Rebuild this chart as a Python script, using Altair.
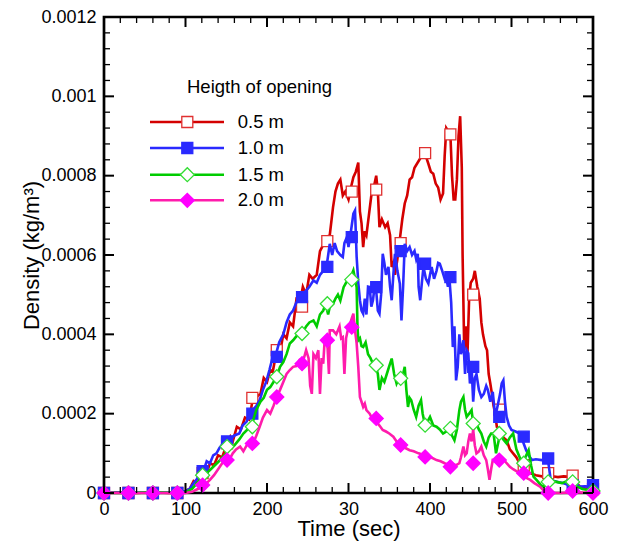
import altair as alt
import pandas as pd

# ---------------- data (density in units of 1e-4 kg/m^3) ----------------
UNIT = 1e-4

series_labels = ["0.5 m", "1.0 m", "1.5 m", "2.0 m"]
legend_title = "Heigth of opening"

red_points = [(0,0),(20,0.02),(40,0),(60,0.02),(80,0),(95,0.03),(100,0.05),(105,0.1),(110,0.3),(115,0.25),
    (120,0.5),(125,0.45),(130,0.75),(135,0.7),(140,0.95),(145,0.9),(150,1.2),(155,1.42),(158,1.3),(163,1.67),
    (168,1.6),(173,1.9),(178,1.85),(182,2.3),(187,2.42),(192,2.5),(196,2.9),(200,2.8),(204,3.1),(207,3.05),
    (212,3.6),(216,3.55),(220,4.0),(224,3.9),(228,4.3),(232,4.2),(236,4.86),(240,4.75),(244,5.2),(248,5.0),
    (252,5.5),(256,5.4),(261,5.5),(265,6.1),(270,6.3),(273,6.45),(277,6.5),(281,7.2),(284,7.6),(287,7.8),
    (290,7.9),(293,7.5),(296,7.6),(300,7.4),(303,7.7),(306,7.96),(309,8.1),(312,8.33),(314,7.1),(316,6.8),
    (318,6.2),(320,6.6),(322,6.5),(325,7.0),(328,7.5),(331,7.7),(334,8.0),(336,7.6),(338,6.7),(341,6.9),
    (345,6.7),(348,6.8),(351,6.5),(353,5.7),(355,5.8),(357,5.5),(360,5.9),(363,6.4),(366,6.9),(369,7.3),
    (372,7.5),(375,7.9),(378,7.96),(381,8.2),(384,8.3),(387,8.4),(390,8.5),(394,8.55),(398,8.3),(401,8.1),
    (404,8.05),(407,7.8),(410,7.7),(413,7.4),(416,7.55),(418,8.5),(420,9.2),(423,9.1),(425,9.05),(427,8.0),
    (429,7.4),(431,7.4),(433,7.9),(435,9.0),(437,9.5),(439,8.2),(440,6.0),(442,3.6),(444,4.2),(446,3.5),
    (448,4.9),(450,5.3),(453,5.4),(455,5.6),(458,5.2),(461,4.9),(463,4.3),(465,4.0),(468,3.7),(470,3.6),
    (472,3.0),(474,2.76),(476,2.5),(478,2.2),(480,2.0),(482,1.67),(486,1.6),(490,1.4),(494,1.33),(498,1.1),
    (502,1.0),(506,0.9),(510,0.75),(515,0.6),(520,0.55),(523,0.5),(530,0.45),(537,0.42),(543,0.45),(550,0.42),
    (557,0.4),(564,0.42),(572,0.41),(578,0.3),(584,0.16),(590,0.12),(595,0.1),(600,0.1)]

blue_points = [(0,0),(30,0.02),(60,0),(90,0.02),(100,0.05),(105,0.1),(110,0.25),(114,0.35),(118,0.5),(122,0.55),
    (126,0.8),(130,0.75),(134,0.95),(138,1.0),(142,1.15),(146,1.25),(150,1.3),(155,1.35),(160,1.45),(166,1.5),
    (170,1.7),(175,1.8),(179,2.0),(183,2.1),(187,2.2),(191,2.34),(195,2.6),(199,2.8),(203,3.1),(207,3.43),
    (211,3.5),(215,3.8),(220,4.0),(224,4.3),(228,4.5),(232,4.6),(236,4.8),(240,4.94),(244,5.0),(248,5.1),
    (252,5.2),(257,5.36),(261,5.3),(265,5.5),(269,5.6),(273,5.7),(277,6.28),(280,6.0),(283,6.3),(286,6.1),
    (290,6.0),(293,5.95),(295,6.3),(298,6.45),(300,6.2),(303,6.6),(306,7.04),(308,7.12),(310,5.95),(312,5.3),
    (314,4.86),(316,4.6),(318,4.52),(320,4.9),(322,4.5),(324,5.2),(326,5.19),(328,4.7),(330,4.86),(332,5.2),
    (334,5.1),(336,4.6),(338,4.52),(340,5.0),(342,6.03),(344,5.8),(346,5.5),(349,5.7),(351,5.2),(353,4.86),
    (355,5.5),(357,6.03),(360,5.6),(363,5.28),(365,4.35),(367,5.2),(369,6.28),(372,6.1),(375,6.2),(378,6.0),
    (381,6.1),(383,5.9),(385,6.03),(386,5.2),(388,4.86),(390,5.3),(392,5.7),(395,5.4),(398,5.28),(400,5.5),
    (402,5.7),(405,5.4),(408,5.6),(410,5.8),(412,5.78),(415,5.6),(418,5.4),(420,5.44),(422,5.2),(424,5.36),
    (426,4.8),(428,3.68),(430,4.2),(432,2.84),(434,3.18),(436,4.0),(438,3.5),(441,3.85),(443,3.0),(445,3.6),
    (447,3.52),(449,2.76),(451,3.2),(453,2.3),(455,2.9),(457,3.0),(460,2.6),(463,2.42),(466,2.5),(469,2.7),
    (471,2.6),(474,2.3),(477,2.55),(480,1.92),(483,2.2),(486,2.5),(488,2.76),(490,2.84),(492,2.3),(494,1.92),
    (497,1.7),(500,1.59),(505,1.55),(510,1.5),(514,1.3),(518,1.08),(521,0.95),(525,0.83),(530,0.85),(537,0.83),
    (541,0.85),(545,0.8),(548,0.35),(552,0.3),(558,0.27),(563,0.25),(570,0.2),(577,0.18),(584,0.16),(590,0.17),
    (596,0.16),(600,0.15)]

green_points = [(0,0),(30,0),(60,0.02),(90,0),(100,0.02),(108,0.1),(114,0.25),(121,0.41),(126,0.5),(131,0.6),
    (136,0.7),(141,0.8),(145,0.9),(150,1.0),(155,1.1),(160,1.2),(166,1.35),(171,1.5),(176,1.6),(181,1.67),
    (184,1.9),(187,2.1),(192,2.3),(196,2.4),(200,2.6),(204,2.67),(208,2.8),(212,2.93),(216,3.18),(220,3.3),
    (224,3.5),(228,3.77),(232,3.85),(236,3.95),(240,4.0),(244,4.05),(248,4.2),(252,4.3),(257,4.35),(261,4.2),
    (265,4.5),(269,4.6),(272,4.77),(275,4.5),(277,4.69),(281,4.77),(284,4.9),(287,5.0),(290,4.85),(294,5.19),
    (297,5.3),(300,5.38),(303,5.45),(306,5.61),(308,5.4),(310,5.19),(311,4.2),(312,3.85),(314,3.9),(316,3.7),
    (318,3.68),(321,3.8),(324,3.5),(327,3.4),(330,3.26),(333,3.22),(336,3.0),(338,2.6),(341,2.9),(344,2.8),
    (347,3.0),(350,3.2),(353,3.39),(356,3.0),(359,2.76),(362,2.9),(365,2.89),(367,3.0),(369,3.18),(371,2.6),
    (373,2.17),(375,2.4),(377,2.34),(380,2.1),(383,1.92),(386,2.2),(389,2.34),(391,2.0),(394,1.71),(397,1.8),
    (400,1.92),(404,1.7),(408,1.67),(412,1.6),(416,1.5),(420,1.55),(424,1.63),(427,1.45),(430,1.33),(433,1.6),
    (436,2.09),(438,2.3),(441,2.42),(443,2.1),(445,1.92),(448,2.0),(451,2.09),(453,1.75),(455,1.8),(457,1.75),
    (460,1.6),(463,1.5),(466,1.3),(469,1.17),(472,1.4),(475,1.5),(478,1.5),(481,1.0),(484,1.3),(486,1.5),
    (490,1.35),(494,1.25),(498,1.4),(502,1.5),(506,1.1),(510,0.9),(513,0.75),(517,0.9),(521,1.08),(524,0.7),
    (527,0.41),(532,0.3),(536,0.2),(539,0.16),(545,0.25),(550,0.3),(555,0.28),(562,0.25),(568,0.3),(572,0.28),
    (576,0.16),(582,0.15),(587,0.1),(592,0.08),(600,0.05)]

pink_points = [(0,0),(30,0),(60,0),(90,0),(100,0),(108,0.03),(115,0.1),(122,0.2),(126,0.25),(130,0.33),
    (135,0.45),(140,0.6),(145,0.75),(150,0.91),(154,0.85),(158,1.0),(162,1.1),(167,1.17),(171,1.05),(175,1.2),
    (179,1.3),(183,1.25),(187,1.45),(191,1.67),(195,1.9),(200,2.09),(204,2.0),(208,2.2),(212,2.42),(216,2.6),
    (220,2.8),(224,3.0),(228,3.1),(232,3.18),(236,3.2),(240,3.35),(244,3.3),(248,3.6),(251,3.4),(253,2.7),
    (255,2.5),(257,3.5),(260,3.4),(263,3.6),(265,2.5),(267,3.4),(269,3.26),(271,3.93),(274,3.8),(276,3.0),
    (277,4.1),(281,4.1),(285,4.0),(289,4.2),(291,3.9),(293,3.93),(295,3.0),(297,3.9),(300,4.2),(302,4.27),
    (304,4.4),(306,4.52),(308,4.1),(310,3.77),(312,3.18),(314,2.42),(316,2.3),(318,2.17),(320,2.25),(322,2.09),
    (326,2.0),(330,1.84),(334,1.8),(338,1.7),(342,1.59),(346,1.55),(350,1.5),(355,1.42),(359,1.3),(363,1.21),
    (367,1.15),(371,1.12),(375,1.08),(380,1.05),(386,1.0),(392,0.96),(398,0.9),(403,0.88),(408,0.83),(413,0.8),
    (418,0.75),(424,0.7),(428,0.72),(432,0.7),(436,0.75),(438,0.9),(441,1.17),(443,0.95),(445,1.0),(447,1.3),
    (449,1.5),(451,1.3),(453,1.59),(455,1.2),(457,1.0),(460,1.05),(463,1.17),(466,0.95),(469,0.83),(471,0.6),
    (473,0.33),(475,0.6),(477,0.83),(480,0.8),(483,0.9),(486,0.91),(490,0.85),(494,0.75),(498,0.66),(502,0.6),
    (506,0.55),(510,0.5),(515,0.42),(520,0.36),(523,0.33),(528,0.25),(532,0.2),(535,0.16),(540,0.05),(543,0),
    (560,0),(580,0.02),(600,0)]

marker_t = [0, 30, 60, 90, 121, 151, 182, 212, 243, 274, 304, 334, 364, 394, 425, 453, 485, 515, 545, 575, 600]
red_marker_v = [0, 0, 0, 0, 0.5, 1.25, 2.4, 3.6, 4.7, 6.35, 7.6, 7.65, 6.3, 8.57, 9.04, 5.0, 2.1, 0.7, 0.5, 0.44, 0.1]
blue_marker_v = [0, 0, 0, 0, 0.55, 1.3, 2.0, 3.43, 4.94, 5.7, 6.45, 5.19, 6.1, 5.78, 5.44, 3.18, 1.92, 1.42, 0.87, 0.2, 0.2]
green_marker_v = [0, 0, 0, 0, 0.45, 1.17, 1.67, 2.93, 4.02, 4.77, 5.38, 3.22, 2.89, 1.71, 1.63, 1.75, 1.5, 0.75, 0.28, 0.28, 0.05]
pink_marker_v = [0, 0, 0, 0, 0.2, 0.83, 1.25, 2.42, 3.26, 3.85, 4.18, 1.88, 1.21, 0.91, 0.66, 0.75, 0.83, 0.5, 0, 0.05, 0]

x_ticks = [0, 100, 200, 300, 400, 500, 600]
x_tick_labels = ["0", "100", "200", "30", "400", "500", "600"]
y_ticks = [0, 0.0002, 0.0004, 0.0006, 0.0008, 0.001, 0.0012]
y_tick_labels = ["0", "0.0002", "0.0004", "0.0006", "0.0008", "0.001", "0.0012"]
x_minor = [t for t in range(0, 601, 20) if t % 100 != 0]
y_minor = [round(i * 0.00004, 6) for i in range(31) if i % 5 != 0]

# ---------------- layout / style ----------------
W, H = 489, 476
XMIN, XMAX, YMIN, YMAX = 0, 600, 0, 0.0012
FONT = "Liberation Sans"
MAJOR, MINOR = 10, 6          # tick lengths in pixels
xs = alt.Scale(domain=[XMIN, XMAX], nice=False, zero=False)
ys = alt.Scale(domain=[YMIN, YMAX], nice=False, zero=False)

x_expr = "[" + ",".join("'%s'" % s for s in x_tick_labels) + "][round(datum.value/100)]"
y_expr = "[" + ",".join("'%s'" % s for s in y_tick_labels) + "][round(datum.value/0.0002)]"

X_AXIS = alt.Axis(
    orient="bottom", values=x_ticks, labelExpr=x_expr, ticks=False, domain=False, grid=False,
    labelFont=FONT, labelFontSize=18, labelColor="black", labelPadding=7, labelFlush=False,
    title="Time (sec)", titleFont=FONT, titleFontSize=22, titleFontWeight="normal",
    titleColor="black", titlePadding=0)
Y_AXIS = alt.Axis(
    orient="left", values=y_ticks, labelExpr=y_expr, ticks=False, domain=False, grid=False,
    labelFont=FONT, labelFontSize=18, labelColor="black", labelPadding=8, labelFlush=False,
    title="Density (kg/m³)", titleFont=FONT, titleFontSize=22, titleFontWeight="normal",
    titleColor="black", titlePadding=-3)


def X():
    return alt.X("t:Q", scale=xs, axis=X_AXIS, title="Time (sec)")


def Y():
    return alt.Y("v:Q", scale=ys, axis=Y_AXIS, title="Density (kg/m³)")


layers = []

styles = [
    # line colour, shape, size, marker fill, marker stroke
    ("#d40000", "square", 121, "white", "#e03030"),
    ("#2a2aff", "square", 121, "#2a2aff", "#2a2aff"),
    ("#00cc00", "diamond", 196, "white", "#33dd33"),
    ("#ff1cac", "diamond", 196, "#ff00ff", "#ff00ff"),
]
all_points = [red_points, blue_points, green_points, pink_points]
all_markers = [red_marker_v, blue_marker_v, green_marker_v, pink_marker_v]

for pts, mv, (lc, shp, sz, mf, ms) in zip(all_points, all_markers, styles):
    df = pd.DataFrame({"t": [p[0] for p in pts], "v": [p[1] * UNIT for p in pts]})
    mdf = pd.DataFrame({"t": marker_t, "v": [m * UNIT for m in mv]})
    layers.append(alt.Chart(df).mark_line(color=lc, strokeWidth=2.6).encode(x=X(), y=Y()))
    layers.append(alt.Chart(mdf).mark_point(shape=shp, size=sz, filled=True, fill=mf, stroke=ms,
                                            strokeWidth=1.3, opacity=1).encode(x=X(), y=Y()))

# inward ticks: point marks placed on the frame through both scales, drawn with a
# one-sided line-segment symbol (unit path scaled by sqrt(size)/2 = tick length)
TICK_PATHS = {"up": "M0,0L0,-1", "down": "M0,0L0,1", "right": "M0,0L1,0", "left": "M0,0L-1,0"}
for vals, size, width in [(x_ticks, MAJOR, 2), (x_minor, MINOR, 1.3)]:
    for base, path in ((YMIN, TICK_PATHS["up"]), (YMAX, TICK_PATHS["down"])):
        d = pd.DataFrame({"t": vals, "v": [base] * len(vals)})
        layers.append(alt.Chart(d).mark_point(shape=path, size=(2 * size) ** 2, filled=False,
                                              stroke="black", strokeWidth=width, opacity=1).encode(
            x=X(), y=Y()))
for vals, size, width in [(y_ticks, MAJOR, 2), (y_minor, MINOR, 1.3)]:
    for base, path in ((XMIN, TICK_PATHS["right"]), (XMAX, TICK_PATHS["left"])):
        d = pd.DataFrame({"t": [base] * len(vals), "v": vals})
        layers.append(alt.Chart(d).mark_point(shape=path, size=(2 * size) ** 2, filled=False,
                                              stroke="black", strokeWidth=width, opacity=1).encode(
            x=X(), y=Y()))

# legend (pixel layout inside the plot area)
leg_rows = [105, 131, 157.7, 183.3]
layers.append(alt.Chart(pd.DataFrame({"label": [legend_title]})).mark_text(
    align="left", baseline="middle", font=FONT, fontSize=18.5, color="black").encode(
    x=alt.value(83), y=alt.value(69.5), text="label:N"))
for lab, ry, (lc, shp, sz, mf, ms) in zip(series_labels, leg_rows, styles):
    ld = pd.DataFrame({"label": [lab]})
    layers.append(alt.Chart(ld).mark_rule(color=lc, strokeWidth=2.6).encode(
        x=alt.value(46), x2=alt.value(120), y=alt.value(ry)))
    layers.append(alt.Chart(ld).mark_point(shape=shp, size=sz, filled=True, fill=mf, stroke=ms,
                                           strokeWidth=1.3, opacity=1).encode(
        x=alt.value(83.3), y=alt.value(ry)))
    layers.append(alt.Chart(ld).mark_text(align="left", baseline="middle", font=FONT, fontSize=18.5,
                                          color="black").encode(
        x=alt.value(133.7), y=alt.value(ry), text="label:N"))

chart = alt.layer(*layers).properties(
    width=W, height=H,
    autosize=alt.AutoSizeParams(type="none"),
    padding={"left": 96, "top": 9, "right": 16, "bottom": 52},
    background="white",
).configure_view(stroke="black", strokeWidth=2.7)

chart.save("out.html", embed_options={"renderer": "svg", "actions": False})
